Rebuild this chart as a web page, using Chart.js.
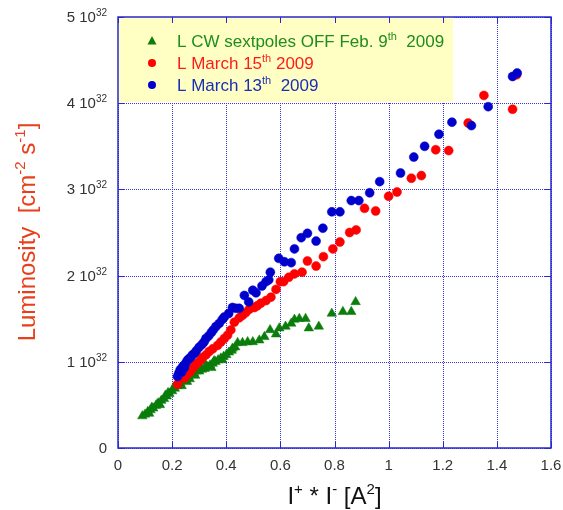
<!DOCTYPE html>
<html><head><meta charset="utf-8">
<script src="https://cdn.jsdelivr.net/npm/chart.js@4"></script>
<style>html,body{margin:0;padding:0;background:#fff}</style>
</head><body>
<canvas id="c" width="563" height="510"></canvas>
<script>
// ---- data (y in units of 10^32 cm^-2 s^-1, x in A^2) ----
const X_TICKS = [0, 0.2, 0.4, 0.6, 0.8, 1, 1.2, 1.4, 1.6];
const X_TICK_LABELS = ['0', '0.2', '0.4', '0.6', '0.8', '1', '1.2', '1.4', '1.6'];
const Y_TICKS = [0, 1, 2, 3, 4, 5];
const Y_TICK_BASE = ['0', '1 10', '2 10', '3 10', '4 10', '5 10'];
const Y_TICK_EXP = ['', '32', '32', '32', '32', '32'];

const greenX = [0.09,0.10,0.11,0.115,0.12,0.125,0.13,0.14,0.145,0.15,0.155,0.16,0.17,0.175,0.18,0.185,0.19,0.20,0.205,0.21,0.22,0.225,0.23,0.235,0.24,0.25,0.255,0.26,0.265,0.27,0.28,0.285,0.29,0.30,0.305,0.31,0.32,0.325,0.33,0.34,0.345,0.35,0.355,0.36,0.37,0.38,0.385,0.39,0.40,0.41,0.42,0.423,0.433,0.442,0.46,0.479,0.498,0.522,0.541,0.562,0.584,0.596,0.619,0.640,0.652,0.670,0.693,0.705,0.742,0.790,0.831,0.862,0.878];
const greenY = [0.37,0.39,0.42,0.40,0.44,0.47,0.46,0.49,0.51,0.52,0.50,0.55,0.57,0.61,0.60,0.64,0.63,0.66,0.70,0.69,0.72,0.76,0.75,0.72,0.78,0.80,0.77,0.83,0.80,0.85,0.87,0.84,0.89,0.89,0.93,0.91,0.92,0.96,0.94,0.96,0.93,0.98,1.01,1.00,1.02,1.04,1.02,1.06,1.08,1.11,1.13,1.155,1.17,1.22,1.22,1.23,1.23,1.25,1.29,1.37,1.32,1.39,1.41,1.445,1.49,1.50,1.50,1.39,1.41,1.56,1.58,1.58,1.695];

const redX = [0.22,0.245,0.255,0.265,0.275,0.285,0.295,0.305,0.312,0.325,0.337,0.35,0.368,0.38,0.393,0.405,0.417,0.430,0.448,0.460,0.472,0.485,0.504,0.515,0.528,0.547,0.565,0.584,0.600,0.612,0.631,0.652,0.680,0.700,0.732,0.759,0.794,0.820,0.856,0.880,0.911,0.952,1.000,1.031,1.084,1.121,1.174,1.222,1.294,1.352,1.458,1.473];
const redY = [0.74,0.81,0.85,0.88,0.92,0.96,0.99,1.02,1.05,1.08,1.12,1.15,1.19,1.23,1.27,1.31,1.37,1.46,1.51,1.54,1.57,1.61,1.63,1.65,1.68,1.71,1.75,1.84,1.93,1.93,1.98,2.02,2.04,2.17,2.11,2.22,2.31,2.39,2.50,2.53,2.78,2.75,2.92,2.97,3.13,3.16,3.46,3.45,3.77,4.09,3.93,4.33];

const blueX = [0.22,0.225,0.23,0.235,0.24,0.245,0.25,0.255,0.26,0.268,0.275,0.283,0.29,0.30,0.31,0.318,0.325,0.335,0.345,0.352,0.362,0.374,0.385,0.393,0.409,0.423,0.435,0.448,0.467,0.483,0.498,0.510,0.532,0.547,0.557,0.563,0.594,0.615,0.640,0.652,0.677,0.700,0.732,0.757,0.790,0.820,0.862,0.890,0.930,0.967,1.044,1.093,1.133,1.186,1.234,1.306,1.368,1.458,1.475];
const blueY = [0.83,0.87,0.91,0.88,0.95,0.93,0.98,1.01,1.03,1.05,1.08,1.10,1.13,1.17,1.20,1.23,1.27,1.30,1.34,1.37,1.41,1.445,1.49,1.52,1.56,1.63,1.62,1.62,1.77,1.695,1.83,1.80,1.88,1.93,1.95,2.04,2.20,2.16,2.15,2.31,2.44,2.49,2.40,2.55,2.74,2.74,2.87,2.87,2.96,3.09,3.19,3.375,3.50,3.64,3.78,3.74,3.96,4.31,4.35];

const LEGEND = [
  { base: 'L CW sextpoles OFF Feb. 9', sup: 'th', tail: '  2009', color: '#1e8c1e', marker: '#0a7d0a', style: 'triangle' },
  { base: 'L March 15', sup: 'th', tail: ' 2009', color: '#ff1a1a', marker: '#ff0000', style: 'circle' },
  { base: 'L March 13', sup: 'th', tail: '  2009', color: '#1a2eb4', marker: '#0000cc', style: 'circle' }
];

const zip = (xs, ys) => xs.map((x, i) => ({ x: x, y: ys[i] }));
const FONT = '"Liberation Sans", Arial, Helvetica, sans-serif';

function drawRich(ctx, parts, x, y, align, bf, sf, rise) {
  let w = 0;
  const ws = parts.map(p => { ctx.font = (p[1] ? sf : bf) + 'px ' + FONT; const m = ctx.measureText(p[0]).width; w += m; return m; });
  let cx = align === 'right' ? x - w : align === 'center' ? x - w / 2 : x;
  parts.forEach((p, i) => {
    ctx.font = (p[1] ? sf : bf) + 'px ' + FONT;
    ctx.fillText(p[0], cx, p[1] ? y - rise : y);
    cx += ws[i];
  });
}

const overlay = {
  id: 'overlay',
  beforeDatasetsDraw(chart) {
    const ctx = chart.ctx, a = chart.chartArea;
    const xs = chart.scales.x, ys = chart.scales.y;
    ctx.save();
    // dotted grid from the scales' ticks
    ctx.strokeStyle = '#3535e6';
    ctx.lineWidth = 1;
    ctx.setLineDash([1, 1]);
    ctx.beginPath();
    X_TICKS.forEach(v => {
      const p = Math.round(xs.getPixelForValue(v)) + 0.5;
      ctx.moveTo(p, a.top); ctx.lineTo(p, a.bottom);
    });
    Y_TICKS.forEach(v => {
      const p = Math.round(ys.getPixelForValue(v)) + 0.5;
      ctx.moveTo(a.left, p); ctx.lineTo(a.right, p);
    });
    ctx.stroke();
    ctx.setLineDash([]);
    // legend box
    ctx.fillStyle = '#ffffc4';
    ctx.fillRect(a.left, a.top, 453 - a.left, 102 - a.top);
    ctx.textBaseline = 'alphabetic';
    ctx.textAlign = 'left';
    LEGEND.forEach((it, i) => {
      const cy = 41 + i * 22;
      ctx.fillStyle = it.marker;
      ctx.beginPath();
      if (it.style === 'triangle') {
        ctx.moveTo(152, cy - 5); ctx.lineTo(156.5, cy + 3.5); ctx.lineTo(147.5, cy + 3.5); ctx.closePath();
      } else {
        ctx.arc(152, cy, 4, 0, Math.PI * 2);
      }
      ctx.fill();
      ctx.fillStyle = it.color;
      drawRich(ctx, [[it.base, false], [it.sup, true], [it.tail, false]], 177, cy + 6, 'left', 17, 11, 7);
    });
    ctx.restore();
  },
  afterDraw(chart) {
    const ctx = chart.ctx, a = chart.chartArea;
    const xs = chart.scales.x, ys = chart.scales.y;
    ctx.save();
    ctx.strokeStyle = '#2828d0';
    ctx.lineWidth = 1.5;
    ctx.strokeRect(a.left, a.top, a.right - a.left, a.bottom - a.top);
    ctx.lineWidth = 1;
    ctx.beginPath();
    X_TICKS.forEach(v => {
      const p = Math.round(xs.getPixelForValue(v)) + 0.5;
      ctx.moveTo(p, a.bottom); ctx.lineTo(p, a.bottom - 6);
      ctx.moveTo(p, a.top); ctx.lineTo(p, a.top + 6);
    });
    Y_TICKS.forEach(v => {
      const p = Math.round(ys.getPixelForValue(v)) + 0.5;
      ctx.moveTo(a.left, p); ctx.lineTo(a.left + 6, p);
      ctx.moveTo(a.right, p); ctx.lineTo(a.right - 6, p);
    });
    ctx.stroke();
    ctx.fillStyle = '#333333';
    ctx.textBaseline = 'alphabetic';
    X_TICKS.forEach((v, i) => {
      drawRich(ctx, [[X_TICK_LABELS[i], false]], xs.getPixelForValue(v), a.bottom + 22, 'center', 15, 10, 6);
    });
    Y_TICKS.forEach((v, i) => {
      drawRich(ctx, [[Y_TICK_BASE[i], false], [Y_TICK_EXP[i], true]], 107, ys.getPixelForValue(v) + 5, 'right', 15, 10, 6);
    });
    ctx.fillStyle = '#111111';
    drawRich(ctx, [['I', false], ['+', true], [' * I', false], ['-', true], [' [A', false], ['2', true], [']', false]], (a.left + a.right) / 2, 504, 'center', 24, 15, 10);
    ctx.translate(35, 232);
    ctx.rotate(-Math.PI / 2);
    ctx.fillStyle = '#e8401c';
    drawRich(ctx, [['Luminosity  [cm', false], ['-2', true], [' s', false], ['-1', true], [']', false]], 0, 0, 'center', 24, 15, 10);
    ctx.restore();
  }
};

new Chart(document.getElementById('c'), {
  type: 'scatter',
  data: {
    datasets: [
      { label: 'L March 13th 2009', data: zip(blueX, blueY), order: 0, pointStyle: 'circle', pointRadius: 4.5, backgroundColor: '#0000cc', borderColor: '#0000cc', borderWidth: 0.5 },
      { label: 'L March 15th 2009', data: zip(redX, redY), order: 1, pointStyle: 'circle', pointRadius: 4.5, backgroundColor: '#ff0000', borderColor: '#ff0000', borderWidth: 0.5 },
      { label: 'L CW sextpoles OFF Feb. 9th 2009', data: zip(greenX, greenY), order: 2, pointStyle: 'triangle', pointRadius: 5.5, backgroundColor: '#0a7d0a', borderColor: '#0a7d0a', borderWidth: 0.5 }
    ]
  },
  options: {
    responsive: false,
    animation: false,
    events: [],
    layout: { padding: { left: 118, right: 12, top: 17, bottom: 62 }, autoPadding: false },
    plugins: { legend: { display: false }, tooltip: { enabled: false } },
    scales: {
      x: {
        type: 'linear', min: 0, max: 1.6,
        afterBuildTicks: s => { s.ticks = X_TICKS.map(v => ({ value: v })); },
        ticks: { display: false },
        grid: { display: false, drawTicks: false },
        border: { display: false }
      },
      y: {
        type: 'linear', min: 0, max: 5,
        afterBuildTicks: s => { s.ticks = Y_TICKS.map(v => ({ value: v })); },
        ticks: { display: false },
        grid: { display: false, drawTicks: false },
        border: { display: false }
      }
    }
  },
  plugins: [overlay]
});
</script>
</body></html>
